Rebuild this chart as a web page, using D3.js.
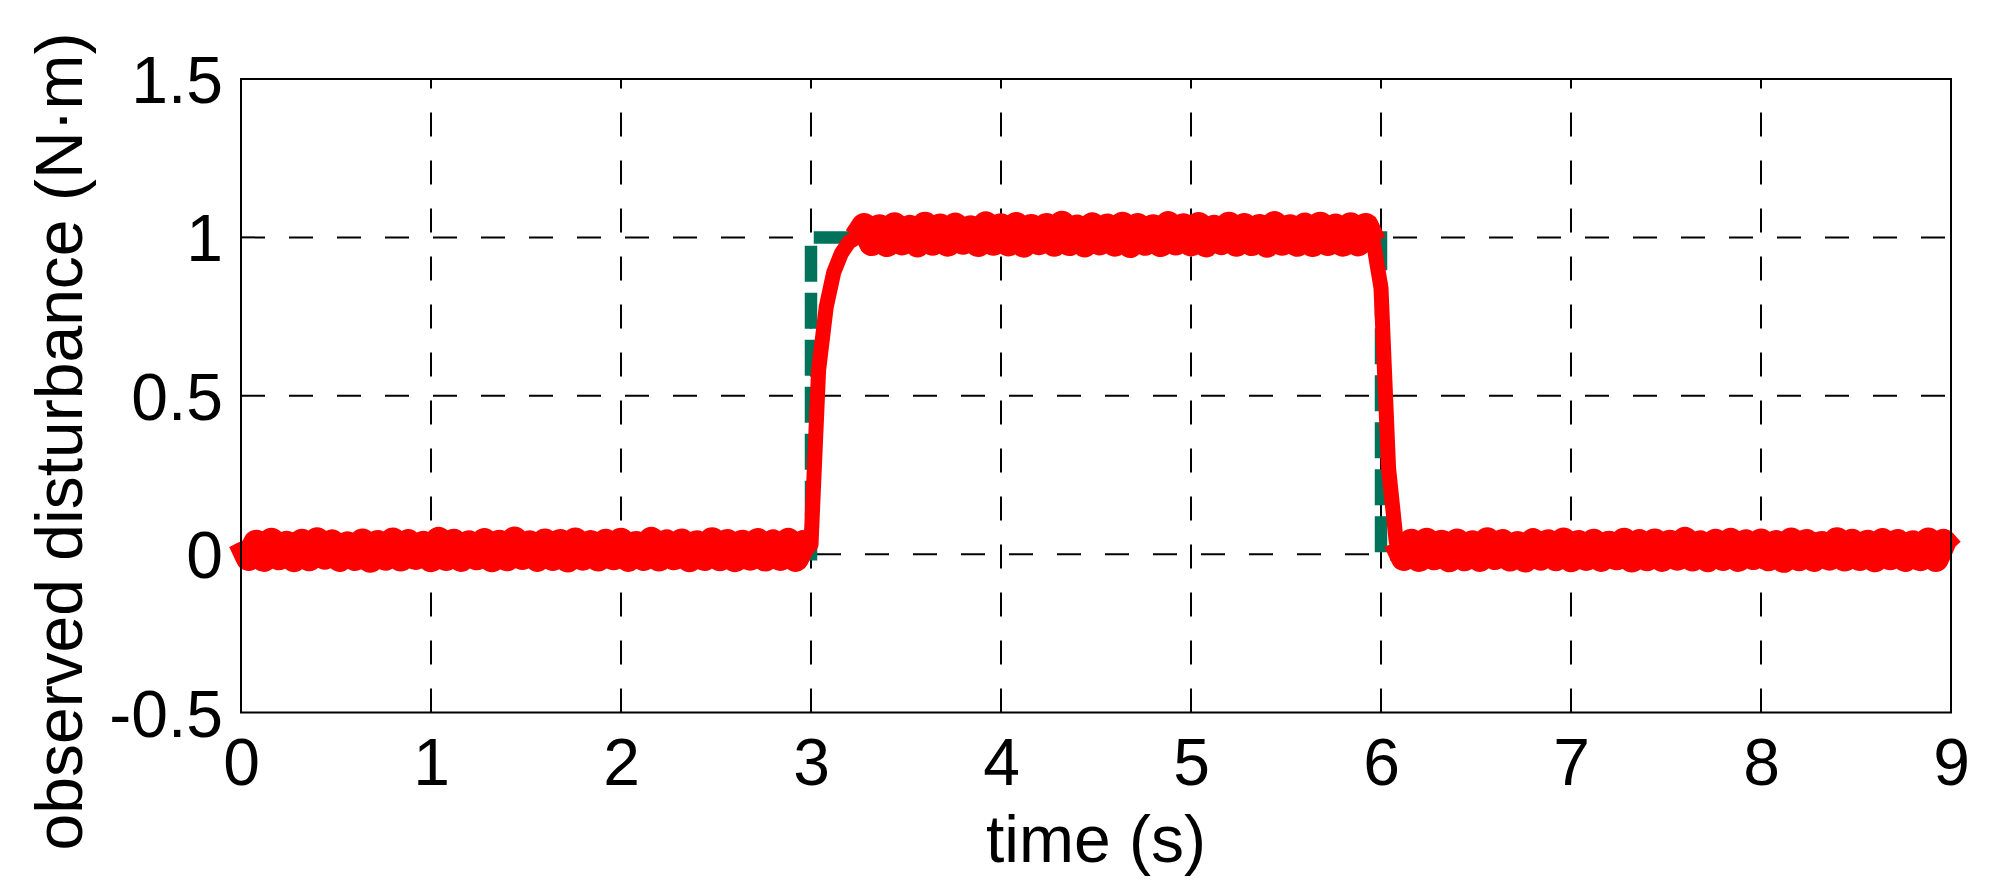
<!DOCTYPE html>
<html>
<head>
<meta charset="utf-8">
<script src="https://cdn.jsdelivr.net/npm/d3@7"></script>
<style>
  html, body { margin: 0; padding: 0; background: #fff; }
  text { font-family: Arial, "Liberation Sans", sans-serif; fill: #000; }
</style>
</head>
<body>
<div id="chart"></div>
<script>
// axis ticks
let xTicks = [0, 1, 2, 3, 4, 5, 6, 7, 8, 9]
let yTicks = [-0.5, 0, 0.5, 1, 1.5]
let yTickLabels = ["-0.5", "0", "0.5", "1", "1.5"]

// applied disturbance (dashed green step)
let appliedT = [0, 3, 3, 6, 6, 9]
let appliedY = [0, 0, 1, 1, 0, 0]

// observed disturbance, one sample every 0.04 s from t = 0 to t = 9
let sampleStep = 0.04
let observed = [
  0.040, -0.012, 0.036, -0.015, 0.042, -0.010, 0.033, -0.016, 0.039, -0.013,
  0.044, -0.008, 0.037, -0.015, 0.031, -0.012, 0.040, -0.018, 0.035, -0.011,
  0.043, -0.014, 0.038, -0.009, 0.033, -0.016, 0.045, -0.012, 0.039, -0.015,
  0.034, -0.010, 0.041, -0.016, 0.036, -0.013, 0.046, -0.009, 0.034, -0.015,
  0.040, -0.012, 0.038, -0.017, 0.043, -0.011, 0.035, -0.014, 0.039, -0.010,
  0.042, -0.015, 0.032, -0.012, 0.045, -0.014, 0.037, -0.010, 0.040, -0.016,
  0.034, -0.012, 0.044, -0.013, 0.038, -0.016, 0.036, -0.011, 0.041, -0.014,
  0.037, -0.012, 0.042, -0.015, 0.035,
  // step up at 3 s
  0.030, 0.580, 0.780, 0.890, 0.950, 0.985, 1.000,
  1.036, 0.982, 1.032, 0.979, 1.038, 0.984, 1.030, 0.978, 1.040, 0.983,
  1.034, 0.980, 1.037, 0.986, 1.029, 0.979, 1.041, 0.983, 1.035, 0.981,
  1.039, 0.977, 1.033, 0.985, 1.036, 0.980, 1.043, 0.982, 1.031, 0.978,
  1.038, 0.984, 1.034, 0.980, 1.040, 0.976, 1.036, 0.983, 1.032, 0.979,
  1.042, 0.984, 1.035, 0.981, 1.039, 0.978, 1.030, 0.985, 1.040, 0.980,
  1.036, 0.982, 1.033, 0.977, 1.042, 0.983, 1.032, 0.980, 1.037, 0.979,
  1.040, 0.982, 1.034, 0.980, 1.038, 0.981, 1.036, 0.984,
  // step down at 6 s
  0.840, 0.270, 0.040,
  -0.012, 0.039, -0.015, 0.042, -0.010, 0.036, -0.016, 0.040, -0.013, 0.034,
  -0.015, 0.044, -0.009, 0.038, -0.014, 0.032, -0.017, 0.041, -0.011, 0.037,
  -0.013, 0.043, -0.016, 0.035, -0.012, 0.039, -0.015, 0.033, -0.010, 0.042,
  -0.017, 0.038, -0.013, 0.040, -0.015, 0.036, -0.011, 0.045, -0.014, 0.034,
  -0.016, 0.039, -0.012, 0.042, -0.015, 0.037, -0.009, 0.040, -0.013, 0.035,
  -0.018, 0.043, -0.013, 0.038, -0.015, 0.032, -0.011, 0.044, -0.014, 0.039,
  -0.012, 0.036, -0.016, 0.041, -0.010, 0.038, -0.015, 0.034, -0.013, 0.043,
  -0.015, 0.039, 0.012
]
// sample index ranges where the signal is steady (noise band is drawn wider)
let steadyRanges = [[0, 75], [81, 149], [152, 225]]

let config = {
  width: 1989,
  height: 894,
  left: 241,
  right: 1951,
  top: 79,
  bottom: 712.5,
  fontSize: 66,
  gridDash: "24,24",
  green: "#00735a",
  red: "#ff0000"
}

let x = d3.scaleLinear().domain([0, 9]).range([config.left, config.right])
let y = d3.scaleLinear().domain([-0.5, 1.5]).range([config.bottom, config.top])

let svg = d3.select("#chart").append("svg")
  .attr("width", config.width)
  .attr("height", config.height)

svg.append("rect")
  .attr("width", config.width)
  .attr("height", config.height)
  .attr("fill", "#fff")

// dashed grid, vertical ones start at the bottom
let grid = svg.append("g")
  .attr("stroke", "#000")
  .attr("stroke-width", 2)
  .attr("stroke-dasharray", config.gridDash)

grid.selectAll(".vgrid")
  .data(xTicks.slice(1, -1))
  .enter().append("line")
  .attr("x1", d => x(d)).attr("x2", d => x(d))
  .attr("y1", config.bottom).attr("y2", config.top)

grid.selectAll(".hgrid")
  .data(yTicks.slice(1, -1))
  .enter().append("line")
  .attr("x1", config.left).attr("x2", config.right)
  .attr("y1", d => y(d)).attr("y2", d => y(d))

let line = d3.line().x(d => x(d[0])).y(d => y(d[1]))

// applied step
let applied = appliedT.map((t, i) => [t, appliedY[i]])
svg.append("path")
  .datum(applied)
  .attr("fill", "none")
  .attr("stroke", config.green)
  .attr("stroke-width", 12.5)
  .attr("stroke-dasharray", "36,11")
  .attr("stroke-dashoffset", 3.5)
  .attr("d", line)

// observed disturbance
let observedPts = observed.map((v, i) => [i * sampleStep, v])
let red = svg.append("g")
  .attr("fill", "none")
  .attr("stroke", config.red)
  .attr("stroke-linejoin", "round")
  .attr("stroke-linecap", "butt")

red.append("path")
  .datum(observedPts)
  .attr("stroke-width", 15)
  .attr("d", line)

red.selectAll(".steady")
  .data(steadyRanges)
  .enter().append("path")
  .attr("stroke-width", 26)
  .attr("d", r => line(observedPts.slice(r[0], r[1] + 1)))

// box
svg.append("rect")
  .attr("x", config.left)
  .attr("y", config.top)
  .attr("width", config.right - config.left)
  .attr("height", config.bottom - config.top)
  .attr("fill", "none")
  .attr("stroke", "#000")
  .attr("stroke-width", 2)

// tick labels
let xAxis = svg.append("g")
  .attr("transform", "translate(0," + config.bottom + ")")
  .call(d3.axisBottom(x).tickValues(xTicks).tickSize(0).tickFormat(d3.format("d")))
xAxis.select(".domain").remove()
xAxis.selectAll("text")
  .attr("y", 72.5)
  .attr("dy", 0)
  .style("font-size", config.fontSize + "px")
  .style("font-family", "Arial, 'Liberation Sans', sans-serif")
  .attr("fill", "#000")

let yAxis = svg.append("g")
  .attr("transform", "translate(" + config.left + ",0)")
  .call(d3.axisLeft(y).tickValues(yTicks).tickSize(0)
    .tickFormat((d, i) => yTickLabels[i]))
yAxis.select(".domain").remove()
yAxis.selectAll("text")
  .attr("x", -18)
  .attr("dy", "0.356em")
  .style("font-size", config.fontSize + "px")
  .style("font-family", "Arial, 'Liberation Sans', sans-serif")
  .attr("fill", "#000")

// axis titles
svg.append("text")
  .attr("x", (config.left + config.right) / 2)
  .attr("y", 862)
  .attr("text-anchor", "middle")
  .style("font-size", config.fontSize + "px")
  .text("time (s)")

svg.append("text")
  .attr("transform", "translate(82,441.5) rotate(-90)")
  .attr("text-anchor", "middle")
  .style("font-size", config.fontSize + "px")
  .text("observed disturbance (N·m)")
</script>
</body>
</html>
